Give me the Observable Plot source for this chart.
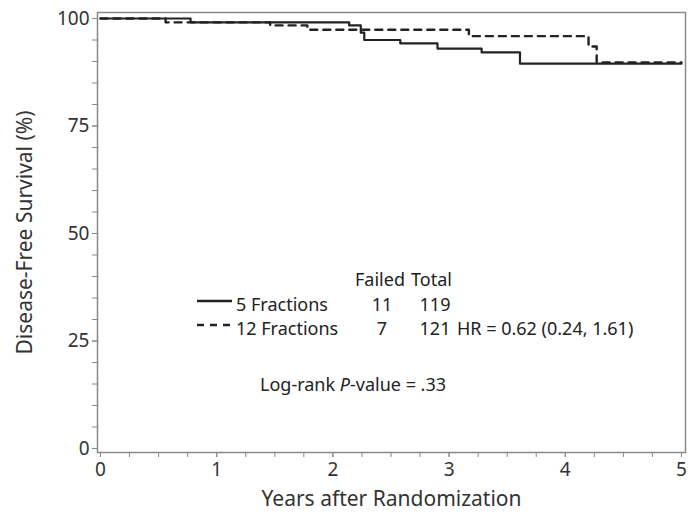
<!DOCTYPE html>
<html>
<head>
<meta charset="utf-8">
<script src="https://cdn.jsdelivr.net/npm/d3@7"></script>
<script src="https://cdn.jsdelivr.net/npm/@observablehq/plot@0.6"></script>
<style>
  html, body { margin: 0; padding: 0; background: #fff; }
  #wrap { position: relative; width: 692px; height: 521px; font-family: "Noto Sans", sans-serif; color: #222; }
  .t { position: absolute; font-size: 18px; line-height: 18px; white-space: nowrap; transform: translateY(-50%); }
  .c { transform: translate(-50%, -50%); }
  .sample { position: absolute; }
</style>
</head>
<body>
<div id="wrap"></div>
<script>
// Kaplan-Meier step points
const years5 = [0, 0.775, 2.14, 2.24, 2.27, 2.58, 2.90, 3.28, 3.61, 5.0];
const surv5  = [100, 99.1, 98.4, 96.7, 95.0, 94.2, 93.0, 92.1, 89.5, 89.5];
const years12 = [0, 0.56, 1.46, 1.78, 3.17, 4.20, 4.27, 5.0];
const surv12  = [100, 99.1, 98.4, 97.4, 95.9, 93.5, 89.8, 89.8];

const xTicks = [0, 1, 2, 3, 4, 5];
const yTicks = [0, 25, 50, 75, 100];
const xMinor = d3.range(0, 5.001, 0.25);
const yMinor = d3.range(0, 100.001, 5);

const groups = ["5 Fractions", "12 Fractions"];
const failed = [11, 7];
const total = [119, 121];
const hrText = "HR = 0.62 (0.24, 1.61)";

const d5 = years5.map((t, i) => ({t, s: surv5[i]}));
const d12 = years12.map((t, i) => ({t, s: surv12[i]}));

const axisColor = "#888";
const font = "Noto Sans";

const chart = Plot.plot({
  width: 692,
  height: 521,
  marginLeft: 97,
  marginRight: 7,
  marginTop: 12,
  marginBottom: 69,
  style: {fontFamily: font, fontSize: "19px", color: "#333", background: "#fff"},
  x: {domain: [0, 5], insetLeft: 3, insetRight: 4},
  y: {domain: [0, 100], insetTop: 6, insetBottom: 4},
  marks: [
    Plot.frame({stroke: axisColor, strokeWidth: 1.5}),
    Plot.axisX({ticks: xMinor, tickSize: 5, tickFormat: () => "", stroke: axisColor, label: null}),
    Plot.axisY({ticks: yMinor, tickSize: 5, tickFormat: () => "", stroke: axisColor, label: null}),
    Plot.axisX({ticks: xTicks, tickSize: 5, tickPadding: 5, tickFormat: d => String(d), stroke: axisColor, fill: "#333", fontSize: 19,
      label: "Years after Randomization", labelAnchor: "center", labelArrow: "none", labelOffset: 53}),
    Plot.axisY({ticks: yTicks, tickSize: 5, tickPadding: 3, tickFormat: d => String(d), stroke: axisColor, fill: "#333", fontSize: 19,
      label: "Disease-Free Survival (%)", labelAnchor: "center", labelArrow: "none", labelOffset: 80}),
    Plot.line(d12, {x: "t", y: "s", curve: "step-after", stroke: "#222", strokeWidth: 2.4, strokeDasharray: "7,6"}),
    Plot.line(d5, {x: "t", y: "s", curve: "step-after", stroke: "#222", strokeWidth: 2.2})
  ]
});
chart.querySelectorAll("g[aria-label='x-axis label'] text, g[aria-label='y-axis label'] text").forEach(t => {
  t.setAttribute("font-size", "21px");
  t.style.fontSize = "21px";
});

const wrap = document.getElementById("wrap");
wrap.appendChild(chart);

function addText(txt, x, y, centered, html) {
  const d = document.createElement("div");
  d.className = "t" + (centered ? " c" : "");
  d.style.left = x + "px";
  d.style.top = y + "px";
  if (html) d.innerHTML = txt; else d.textContent = txt;
  wrap.appendChild(d);
}
function addSample(y, dashed) {
  const ns = "http://www.w3.org/2000/svg";
  const s = document.createElementNS(ns, "svg");
  s.setAttribute("class", "sample");
  s.setAttribute("width", 40);
  s.setAttribute("height", 6);
  s.style.left = "196px";
  s.style.top = (y - 3) + "px";
  const l = document.createElementNS(ns, "line");
  l.setAttribute("x1", 1); l.setAttribute("x2", 36);
  l.setAttribute("y1", 3); l.setAttribute("y2", 3);
  l.setAttribute("stroke", "#222");
  l.setAttribute("stroke-width", 2.4);
  if (dashed) l.setAttribute("stroke-dasharray", "7,6");
  s.appendChild(l);
  wrap.appendChild(s);
}

addText("Failed", 355, 279, false);
addText("Total", 411, 279, false);
const rowY = [304, 328];
groups.forEach((g, i) => {
  addSample(rowY[i] - 3, i === 1);
  addText(g, 236, rowY[i], false);
  addText(String(failed[i]), 382, rowY[i], true);
  addText(String(total[i]), 435, rowY[i], true);
});
addText(hrText, 457, rowY[1], false);
addText("Log-rank <i>P</i>-value = .33", 260, 384, false, true);
</script>
</body>
</html>
